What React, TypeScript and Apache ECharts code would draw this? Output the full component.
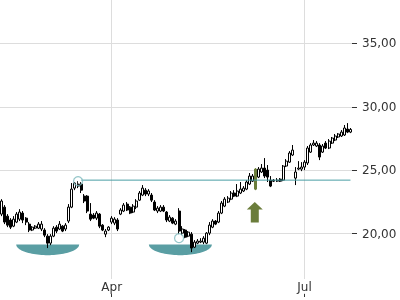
import React, { useEffect, useRef } from 'react';
import * as echarts from 'echarts';

// trading calendar (weekdays minus exchange holidays)
const FIRST_DAY = [2019, 1, 7];
const LAST_DAY = [2019, 6, 23];
const HOLIDAYS = ['2019-02-18', '2019-04-19', '2019-05-27', '2019-07-04'];
const MONTHS = ['Jan', 'Feb', 'Mar', 'Apr', 'May', 'Jun', 'Jul', 'Aug', 'Sep', 'Oct', 'Nov', 'Dec'];
const LABEL_MONTHS = ['04', '07'];

function buildDates(): string[] {
  const out: string[] = [];
  let t = Date.UTC(FIRST_DAY[0], FIRST_DAY[1], FIRST_DAY[2]);
  const end = Date.UTC(LAST_DAY[0], LAST_DAY[1], LAST_DAY[2]);
  while (t <= end) {
    const d = new Date(t);
    const wd = d.getUTCDay();
    const s = d.toISOString().slice(0, 10);
    if (wd !== 0 && wd !== 6 && HOLIDAYS.indexOf(s) < 0) out.push(s);
    t += 86400000;
  }
  return out;
}
const dates = buildDates();

const open = [
  21.54, 22.09, 21.38, 21.07, 20.59, 20.91, 21.14, 21.62, 21.22, 20.75,
  20.28, 20.43, 20.43, 20.36, 20.28, 19.80, 19.25, 19.80, 20.51, 20.36,
  20.59, 20.36, 20.99, 22.09, 23.59, 23.91, 23.91, 22.96, 22.96, 21.54,
  21.46, 21.22, 21.54, 20.67, 19.96, 20.28, 20.91, 20.83, 21.07, 21.54,
  21.78, 22.33, 22.09, 21.70, 22.09, 22.64, 23.04, 23.43, 23.12, 23.04,
  22.49, 21.78, 21.78, 22.09, 21.70, 20.99, 21.22, 20.75, 21.78, 20.04,
  20.28, 19.80, 19.96, 18.93, 19.25, 19.33, 19.33, 19.25, 20.04, 20.51,
  20.99, 20.91, 21.62, 22.17, 22.49, 22.72, 23.20, 22.96, 23.20, 23.36,
  23.51, 23.91, 24.14, 23.51, 24.46, 24.86, 25.17, 25.01, 24.22, 24.22,
  24.14, 24.30, 24.22, 25.33, 25.64, 26.20, 24.38, 25.09, 25.09, 25.25,
  25.57, 26.43, 26.99, 26.91, 26.99, 26.43, 27.14, 26.75, 27.14, 27.38,
  27.62, 27.70, 27.78, 28.25, 28.01,
];
const close = [
  22.57, 20.91, 20.67, 20.51, 21.14, 21.54, 21.70, 21.07, 20.91, 20.28,
  20.51, 20.59, 20.75, 20.75, 19.88, 19.25, 19.80, 20.43, 20.20, 20.75,
  20.20, 20.67, 22.09, 23.51, 23.99, 23.75, 23.43, 22.57, 21.78, 21.14,
  21.22, 21.62, 20.59, 20.28, 20.20, 20.51, 21.22, 21.14, 20.36, 21.86,
  22.25, 21.86, 21.62, 22.17, 22.57, 23.20, 23.59, 23.12, 23.36, 22.64,
  21.86, 22.01, 22.09, 21.78, 21.07, 21.30, 20.83, 20.99, 20.20, 20.36,
  19.72, 20.12, 18.86, 19.33, 19.41, 19.41, 19.64, 20.04, 20.67, 20.99,
  20.75, 21.62, 22.41, 22.72, 22.80, 23.20, 22.96, 23.36, 23.51, 23.59,
  24.07, 24.54, 24.54, 25.09, 25.09, 25.17, 24.54, 24.46, 23.75, 24.14,
  24.22, 24.14, 25.33, 25.72, 26.36, 26.59, 24.86, 25.17, 25.25, 25.64,
  26.75, 26.99, 27.14, 27.14, 26.04, 26.91, 26.75, 27.30, 27.54, 27.70,
  27.86, 28.01, 28.33, 28.01, 28.22,
];
const low = [
  21.38, 20.75, 20.51, 20.36, 20.51, 20.83, 20.99, 20.83, 20.67, 20.12,
  20.20, 20.36, 20.36, 20.20, 19.72, 18.86, 19.09, 19.72, 20.04, 20.28,
  20.12, 20.20, 20.83, 22.01, 23.43, 23.59, 23.20, 22.41, 21.62, 20.99,
  21.14, 21.07, 20.43, 20.20, 19.72, 20.20, 20.75, 20.67, 20.20, 21.46,
  21.70, 21.78, 21.54, 21.62, 21.93, 22.57, 22.96, 22.96, 22.96, 22.49,
  21.78, 21.62, 21.70, 21.70, 20.91, 20.91, 20.75, 20.67, 19.96, 19.88,
  19.64, 19.72, 18.54, 18.86, 19.17, 19.25, 19.17, 19.17, 19.88, 20.43,
  20.67, 20.83, 21.54, 22.09, 22.41, 22.64, 22.88, 22.88, 23.12, 23.28,
  23.43, 23.83, 24.07, 23.43, 24.38, 24.78, 24.38, 24.07, 23.67, 24.07,
  24.07, 24.07, 24.14, 25.25, 25.57, 26.12, 23.83, 25.01, 24.93, 25.01,
  25.41, 26.36, 26.91, 26.83, 25.80, 26.36, 26.67, 26.67, 27.07, 27.30,
  27.54, 27.62, 27.70, 27.93, 27.93,
];
const high = [
  22.72, 22.25, 21.54, 21.22, 21.38, 21.70, 21.93, 21.78, 21.30, 20.91,
  20.59, 20.67, 20.91, 20.99, 20.43, 19.96, 19.96, 20.59, 20.67, 20.99,
  20.67, 20.83, 22.33, 23.99, 24.07, 24.14, 24.07, 23.12, 23.04, 22.41,
  21.62, 21.78, 21.62, 20.75, 20.36, 20.59, 21.38, 21.30, 21.22, 22.01,
  22.41, 22.49, 22.17, 22.33, 22.72, 23.36, 23.83, 23.59, 23.51, 23.20,
  22.64, 22.17, 22.25, 22.25, 21.78, 21.46, 21.30, 21.14, 22.01, 20.59,
  20.36, 20.20, 20.12, 19.49, 19.57, 19.64, 19.80, 20.12, 20.91, 21.14,
  21.07, 21.78, 22.57, 22.88, 22.96, 23.36, 23.43, 23.91, 24.07, 23.75,
  24.22, 24.78, 24.70, 25.17, 25.25, 25.49, 25.96, 25.41, 24.54, 24.30,
  24.38, 24.38, 25.41, 25.88, 26.51, 26.99, 25.25, 25.72, 25.64, 25.80,
  26.91, 27.14, 27.38, 27.30, 27.14, 27.07, 27.30, 27.46, 27.62, 27.86,
  27.93, 28.17, 28.57, 28.72, 28.33,
];

const yTicks = [20, 25, 30, 35];
const resistanceLevel = 24.22;
const resistanceFrom = 26;
const breakoutIndex = 83;
// [index, price] of the marked turning points
const markedPoints = [[25, 24.14], [58, 19.64]];
// [centre index, top price, bottom price, half width in bars]
const bowls = [[15.08, 19.15, 18.3, 10.3], [58.43, 19.15, 18.3, 10.3]];
// [index, tip price, tail price]
const arrows = [[83, 22.49, 20.88]];

const TEXT = '#333';
const GRID = '#dddddd';
const TEAL = '#4a9fa4';
const BOWL = '#5a9ea3';
const OLIVE = '#6b7d3b';
const FONT = 'DejaVu Sans';

const fmt = (v: number) => v.toFixed(2).replace('.', ',');

function isLabelDay(idx: number): boolean {
  if (idx <= 0) return false;
  const m = dates[idx].slice(5, 7);
  return m !== dates[idx - 1].slice(5, 7) && LABEL_MONTHS.indexOf(m) >= 0;
}

export default function App() {
  const ref = useRef<HTMLDivElement>(null);
  useEffect(() => {
    if (!ref.current) return;
    const chart = echarts.init(ref.current, undefined, { renderer: 'svg' });
    const last = close.length - 1;
    const candles = dates.map((_, i) => {
      const v = [open[i], close[i], low[i], high[i]];
      if (i === breakoutIndex) {
        return { value: v, itemStyle: { color: OLIVE, color0: OLIVE, borderColor: OLIVE, borderColor0: OLIVE } };
      }
      return v;
    });
    chart.setOption({
      animation: false,
      grid: { left: 0, right: 48, top: 0, bottom: 3, containLabel: false, outerBoundsMode: 'none' },
      xAxis: {
        type: 'category',
        data: dates,
        boundaryGap: true,
        axisLine: { show: false },
        axisTick: {
          show: true, inside: true, length: 3, alignWithLabel: true,
          interval: (i: number) => isLabelDay(i),
          lineStyle: { color: TEXT },
        },
        axisLabel: {
          inside: true, margin: 4,
          interval: (i: number) => isLabelDay(i),
          formatter: (v: string) => MONTHS[parseInt(v.slice(5, 7), 10) - 1],
          color: TEXT, fontSize: 12, fontFamily: FONT,
          backgroundColor: '#fff', padding: [2, 1, 0, 1],
        },
        splitLine: {
          show: true, alignWithLabel: true,
          interval: (i: number) => isLabelDay(i),
          lineStyle: { color: GRID, width: 1 },
        },
      },
      yAxis: {
        type: 'value',
        position: 'right',
        min: 15,
        max: 38.43,
        scale: true,
        axisLine: { show: false },
        axisTick: { show: true, length: 5, customValues: yTicks, lineStyle: { color: TEXT } },
        axisLabel: {
          customValues: yTicks, margin: 10, formatter: (v: number) => fmt(v),
          color: TEXT, fontSize: 12, fontFamily: FONT,
        },
        splitLine: { show: true, lineStyle: { color: GRID, width: 1 } },
      },
      series: [
        {
          type: 'custom',
          z: 1,
          silent: true,
          encode: { x: 0, y: 1 },
          data: bowls,
          clip: false,
          renderItem: (params: any, api: any) => {
            const c = api.value(0), top = api.value(1), bot = api.value(2), hw = api.value(3);
            const p0 = api.coord([0, top]);
            const band = api.size([1, 0])[0];
            const cx = p0[0] + c * band;
            const ty = p0[1];
            const by = api.coord([0, bot])[1];
            const rx = hw * band, ry = by - ty;
            const pts: number[][] = [];
            for (let k = 0; k <= 48; k++) {
              const a = (Math.PI * k) / 48;
              pts.push([cx - rx * Math.cos(a), ty + ry * Math.sin(a)]);
            }
            return { type: 'polygon', shape: { points: pts }, style: { fill: BOWL } };
          },
        },
        {
          type: 'candlestick',
          z: 2,
          barWidth: 2.5,
          data: candles,
          itemStyle: { color: '#ffffff', color0: '#000000', borderColor: '#000000', borderColor0: '#000000', borderWidth: 1 },
          markLine: {
            silent: true,
            symbol: ['none', 'none'],
            lineStyle: { opacity: 0 },
            label: { position: 'end', distance: 10, formatter: fmt(close[last]), color: TEXT, fontSize: 12, fontFamily: FONT },
            data: [{ yAxis: close[last] }],
          },
        },
        {
          type: 'line',
          z: 3,
          silent: true,
          symbol: 'none',
          lineStyle: { color: TEAL, width: 1 },
          data: [[resistanceFrom, resistanceLevel], [last, resistanceLevel]],
        },
        {
          type: 'scatter',
          z: 4,
          silent: true,
          symbol: 'circle',
          symbolSize: 9,
          itemStyle: { color: 'rgba(255,255,255,0.2)', borderColor: '#7bb8bc', borderWidth: 1.2 },
          data: markedPoints,
        },
        {
          type: 'custom',
          z: 4,
          silent: true,
          encode: { x: 0, y: 1 },
          data: arrows,
          renderItem: (params: any, api: any) => {
            const tip = api.coord([api.value(0), api.value(1)]);
            const tail = api.coord([api.value(0), api.value(2)])[1];
            const x = tip[0] - 0.8, ty = tip[1];
            const hh = 7.5, hw = 8, sw = 4;
            return {
              type: 'polygon',
              shape: { points: [[x, ty], [x + hw, ty + hh], [x + sw, ty + hh], [x + sw, tail], [x - sw, tail], [x - sw, ty + hh], [x - hw, ty + hh]] },
              style: { fill: OLIVE },
            };
          },
        },
      ],
    });
    return () => chart.dispose();
  }, []);
  return <div ref={ref} style={{ position: 'fixed', left: 0, top: 0, width: 400, height: 300 }} />;
}
